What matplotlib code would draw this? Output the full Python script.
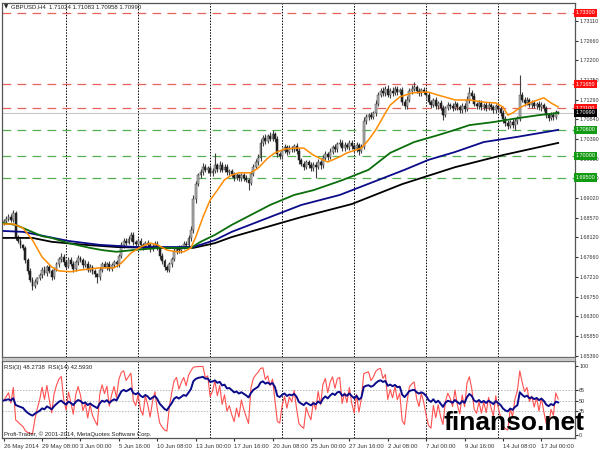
import numpy as np
import matplotlib
matplotlib.use('Agg')
import matplotlib.pyplot as plt
from matplotlib.patches import Rectangle

# GBPUSD H4 closes (26 May - 18 Jul 2014)
first_open = 1.6845
closes = [
    1.6850, 1.6855, 1.6860, 1.6852, 1.6868, 1.6813, 1.6805, 1.6795, 1.6788, 1.6760, 1.6735, 1.6715,
    1.6700, 1.6710, 1.6718, 1.6725, 1.6738, 1.6730, 1.6745, 1.6735, 1.6722, 1.6738, 1.6750, 1.6762,
    1.6768, 1.6755, 1.6745, 1.6760, 1.6752, 1.6740, 1.6755, 1.6765, 1.6760, 1.6748, 1.6752, 1.6738,
    1.6745, 1.6735, 1.6728, 1.6720, 1.6738, 1.6750, 1.6745, 1.6752, 1.6740, 1.6748, 1.6755, 1.6750,
    1.6770, 1.6795, 1.6805, 1.6800, 1.6808, 1.6818, 1.6802, 1.6798, 1.6805, 1.6795, 1.6790, 1.6800,
    1.6795, 1.6785, 1.6792, 1.6798, 1.6788, 1.6770, 1.6758, 1.6745, 1.6738, 1.6750, 1.6762, 1.6780,
    1.6788, 1.6782, 1.6790, 1.6798, 1.6795, 1.6810, 1.6830, 1.6900, 1.6935, 1.6955, 1.6962, 1.6975,
    1.6968, 1.6972, 1.6960, 1.6965, 1.6978, 1.6970, 1.6980, 1.6968, 1.6975, 1.6962, 1.6965, 1.6958,
    1.6950, 1.6955, 1.6948, 1.6955, 1.6950, 1.6945, 1.6938, 1.6958, 1.6975, 1.6985, 1.6995, 1.7030,
    1.7042, 1.7035, 1.7045, 1.7040, 1.7050, 1.7038, 1.7005, 1.7000, 1.7012, 1.7020, 1.7010, 1.7018,
    1.7015, 1.7022, 1.7012, 1.6990, 1.6982, 1.6975, 1.6985, 1.6978, 1.6972, 1.6980, 1.6975, 1.6985,
    1.6978, 1.6995, 1.7005, 1.6998, 1.7010, 1.7020, 1.7015, 1.7028, 1.7030, 1.7018, 1.7025, 1.7020,
    1.7030, 1.7022, 1.7015, 1.7025, 1.7012, 1.7020, 1.7080, 1.7090, 1.7095, 1.7090, 1.7098, 1.7120,
    1.7140, 1.7150, 1.7145, 1.7155, 1.7140, 1.7150, 1.7145, 1.7155, 1.7148, 1.7152, 1.7125, 1.7115,
    1.7130, 1.7150, 1.7155, 1.7158, 1.7150, 1.7145, 1.7152, 1.7148, 1.7140, 1.7125, 1.7118, 1.7128,
    1.7115, 1.7122, 1.7110, 1.7095, 1.7110, 1.7118, 1.7115, 1.7110, 1.7120, 1.7112, 1.7105, 1.7115,
    1.7108, 1.7130, 1.7145, 1.7138, 1.7120, 1.7115, 1.7122, 1.7112, 1.7118, 1.7110, 1.7118, 1.7112,
    1.7105, 1.7115, 1.7108, 1.7100, 1.7085, 1.7075, 1.7070, 1.7078, 1.7072, 1.7080, 1.7085, 1.7140,
    1.7130, 1.7122, 1.7128, 1.7118, 1.7122, 1.7115, 1.7120, 1.7112, 1.7118, 1.7110, 1.7095, 1.7088,
    1.7095, 1.7090, 1.7102, 1.7099,
]
# upper / lower shadows in pips
wick_up = [
    4, 6, 5, 7, 8, 5, 4, 6, 3, 5, 4, 6,
    5, 7, 4, 6, 5, 8, 4, 6, 5, 7, 6, 5,
    8, 5, 4, 6, 7, 5, 4, 6, 5, 4, 7, 5,
    6, 4, 5, 3, 6, 5, 7, 4, 6, 5, 4, 6,
    5, 7, 6, 5, 8, 7, 6, 4, 5, 6, 4, 5,
    6, 5, 4, 7, 5, 4, 6, 5, 4, 6, 5, 7,
    5, 6, 4, 5, 6, 7, 8, 10, 8, 6, 7, 9,
    6, 5, 8, 7, 29, 6, 8, 5, 7, 6, 5, 6,
    5, 6, 4, 5, 6, 5, 4, 7, 6, 8, 9, 10,
    7, 8, 6, 9, 10, 6, 7, 5, 6, 8, 5, 7,
    6, 5, 7, 6, 5, 7, 6, 5, 8, 6, 5, 7,
    6, 8, 7, 5, 8, 6, 7, 5, 8, 6, 7, 5,
    6, 7, 5, 6, 5, 7, 10, 6, 5, 7, 6, 8,
    7, 6, 8, 7, 9, 6, 8, 7, 6, 5, 7, 6,
    8, 7, 9, 12, 6, 7, 5, 8, 6, 7, 5, 6,
    7, 5, 6, 8, 6, 7, 5, 6, 7, 5, 6, 7,
    6, 8, 15, 7, 6, 5, 7, 6, 5, 7, 6, 5,
    6, 5, 7, 6, 5, 6, 7, 5, 6, 7, 8, 47,
    8, 6, 7, 5, 6, 7, 5, 6, 7, 5, 6, 5,
    6, 7, 5, 1,
]
wick_dn = [
    5, 4, 6, 5, 4, 6, 5, 7, 5, 6, 8, 6,
    9, 5, 6, 4, 7, 5, 6, 5, 7, 6, 4, 5,
    6, 7, 5, 4, 6, 8, 5, 6, 4, 7, 5, 6,
    5, 7, 6, 12, 5, 6, 4, 7, 5, 6, 5, 7,
    6, 5, 7, 6, 4, 5, 7, 6, 5, 6, 7, 5,
    6, 7, 5, 4, 6, 7, 6, 8, 6, 5, 6, 4,
    5, 6, 5, 4, 6, 5, 6, 7, 8, 5, 7, 6,
    6, 7, 5, 6, 5, 7, 6, 5, 6, 7, 5, 6,
    7, 5, 6, 5, 7, 6, 16, 6, 5, 6, 5, 7,
    6, 7, 5, 6, 5, 7, 8, 7, 6, 5, 7, 6,
    5, 6, 7, 8, 6, 7, 5, 6, 7, 6, 25, 6,
    7, 6, 5, 7, 6, 5, 6, 7, 5, 6, 7, 5,
    6, 7, 8, 5, 9, 6, 5, 6, 7, 5, 6, 5,
    6, 5, 7, 6, 5, 7, 6, 5, 7, 6, 8, 7,
    6, 5, 7, 6, 5, 7, 6, 5, 7, 6, 7, 5,
    6, 7, 5, 12, 6, 5, 7, 6, 5, 6, 7, 5,
    6, 5, 7, 6, 5, 7, 6, 5, 6, 7, 5, 6,
    7, 6, 5, 7, 8, 7, 9, 6, 7, 12, 6, 5,
    6, 7, 5, 6, 7, 5, 6, 7, 8, 6, 7, 8,
    6, 7, 5, 3,
]

# moving averages, read at a few bars each
orange_bars = [0, 4, 8, 12, 16, 20, 23, 28, 32, 40, 46, 49, 53, 57, 61, 64, 68, 72, 75, 78,
               80, 83, 86, 89, 92, 95, 98, 103, 106, 110, 113, 117, 122, 125, 129, 133, 135,
               140, 143, 149, 152, 155, 159, 161, 165, 170, 174, 177, 181, 185, 188, 194, 200,
               205, 208, 210, 212, 215, 219, 225, 228, 231]
orange_vals = [1.6843, 1.6843, 1.6834, 1.6806, 1.6767, 1.6744, 1.6735, 1.6733, 1.6737, 1.6742,
               1.6742, 1.6753, 1.6776, 1.6790, 1.6799, 1.6795, 1.6783, 1.6779, 1.6779, 1.6788,
               1.6813, 1.6859, 1.6898, 1.6921, 1.6945, 1.6956, 1.6961, 1.6961, 1.6972, 1.6995,
               1.7007, 1.7016, 1.7018, 1.7018, 1.7002, 1.6991, 1.6986, 1.6998, 1.7007, 1.7018,
               1.7037, 1.7060, 1.7099, 1.7117, 1.7136, 1.7145, 1.7147, 1.7147, 1.7140, 1.7134,
               1.7129, 1.7129, 1.7124, 1.7122, 1.7113, 1.7094, 1.7099, 1.7111, 1.7122, 1.7134,
               1.7122, 1.7113]
green_bars = [0, 5, 16, 20, 27, 36, 41, 47, 54, 65, 78, 82, 88, 95, 111, 121, 129, 141, 152,
              161, 171, 181, 188, 194, 204, 214, 223, 231]
green_vals = [1.6845, 1.6841, 1.6815, 1.6811, 1.6799, 1.6788, 1.6783, 1.6779, 1.6783, 1.6788,
              1.6788, 1.6802, 1.6818, 1.6841, 1.6887, 1.6910, 1.6921, 1.6944, 1.6968, 1.7007,
              1.7032, 1.7048, 1.7060, 1.7071, 1.7078, 1.7087, 1.7094, 1.7099]
blue_bars = [0, 8, 17, 27, 40, 55, 69, 79, 88, 95, 124, 140, 167, 177, 188, 200, 214, 231]
blue_vals = [1.6827, 1.6825, 1.6815, 1.6804, 1.6795, 1.6790, 1.6790, 1.6790, 1.6806, 1.6825,
             1.6887, 1.6910, 1.6968, 1.6991, 1.7009, 1.7032, 1.7044, 1.7060]
black_bars = [0, 12, 20, 34, 47, 62, 79, 88, 95, 124, 145, 166, 188, 208, 231]
black_vals = [1.6811, 1.6811, 1.6802, 1.6795, 1.6790, 1.6788, 1.6788, 1.6799, 1.6813, 1.6859,
              1.6889, 1.6935, 1.6974, 1.7002, 1.7030]

red_levels = [1.7330, 1.7165, 1.7110]
green_levels = [1.7060, 1.7000, 1.6950]
bid = 1.70990

price_ticks = [1.73110, 1.72660, 1.72200, 1.71750, 1.71290, 1.70840, 1.70390, 1.69930, 1.69480,
               1.69020, 1.68570, 1.68120, 1.67660, 1.67210, 1.66750, 1.66300, 1.65850, 1.65390]
rsi_ticks = [0, 35, 50, 65, 100]
time_labels = ['26 May 2014', '29 May 08:00', '3 Jun 00:00', '5 Jun 16:00', '10 Jun 08:00',
               '13 Jun 00:00', '17 Jun 16:00', '20 Jun 08:00', '25 Jun 00:00', '27 Jun 16:00',
               '2 Jul 08:00', '7 Jul 00:00', '9 Jul 16:00', '14 Jul 08:00', '17 Jul 00:00']

FONT = 'Liberation Sans'
SMALL = 4.3
AXIS = 3.9


def rsi(vals, n):
    # Wilder smoothing, started from a neutral average
    d = np.diff(vals)
    seed = np.mean(np.abs(d))
    au, ad = seed, seed
    out = [50.0]
    for v in d:
        au = (au * (n - 1) + max(v, 0)) / n
        ad = (ad * (n - 1) + max(-v, 0)) / n
        out.append(100 - 100 / (1 + au / ad))
    return np.array(out)


closes = np.array(closes)
opens = np.r_[first_open, closes[:-1]]
highs = np.maximum(opens, closes) + np.array(wick_up) * 1e-4
lows = np.minimum(opens, closes) - np.array(wick_dn) * 1e-4
x = np.arange(len(closes))

rsi3 = rsi(closes, 3)
rsi14 = rsi(closes, 14)

fig = plt.figure(figsize=(6, 4.5), dpi=100)
ax = fig.add_axes([2 / 600, 93 / 450, 573 / 600, 354 / 450])
ax2 = fig.add_axes([2 / 600, 12 / 450, 573 / 600, 77 / 450])

# candles
ax.vlines(x, lows, highs, color='#404040', lw=0.8, zorder=3)
bull = closes >= opens
body = np.maximum(np.abs(closes - opens), 0.00006)
ax.bar(x[bull], body[bull], bottom=opens[bull], width=0.8, color='#b4b4b4',
       edgecolor='#404040', lw=0.35, zorder=4)
ax.bar(x[~bull], body[~bull], bottom=closes[~bull], width=0.8, color='#202020',
       edgecolor='#202020', lw=0.35, zorder=4)

# moving averages
ax.plot(black_bars, black_vals, color='black', lw=1.3, zorder=5)
ax.plot(blue_bars, blue_vals, color='#0a0a8a', lw=1.3, zorder=5)
ax.plot(green_bars, green_vals, color='#0a6e0a', lw=1.3, zorder=5)
ax.plot(orange_bars, orange_vals, color='#ff8c00', lw=1.1, zorder=5)

for lv in red_levels:
    ax.axhline(lv, color='#e8625c', lw=0.9, ls=(0, (7, 5)), zorder=2)
for lv in green_levels:
    ax.axhline(lv, color='#55b055', lw=0.9, ls=(0, (7, 5)), zorder=2)
ax.axhline(bid, color='#c8c8c8', lw=0.8, zorder=2)

grid_bars = [25.8 + 30 * k for k in range(7)]
for a in (ax, ax2):
    for g in grid_bars:
        a.axvline(g, color='black', lw=0.7, ls=(0, (1.5, 1.5)), zorder=1)
    a.set_xlim(-0.7, 238)
    for s in a.spines.values():
        s.set_color('#555555')
        s.set_linewidth(0.9)
    a.yaxis.tick_right()
    a.tick_params(axis='y', labelsize=AXIS, length=2, pad=1, colors='#333333')

ax.set_ylim(1.65365, 1.73525)
ax.set_yticks(price_ticks)
ax.set_yticklabels(['%.5f' % v for v in price_ticks], family=FONT)
ax.set_xticks([])


def level_box(lv, fc, z=10):
    ax.text(1.0015, lv, '%.5f' % lv, transform=ax.get_yaxis_transform(), fontsize=AXIS,
            family=FONT, color='white', va='center', ha='left', clip_on=False, zorder=z,
            bbox=dict(boxstyle='square,pad=0.3', fc=fc, ec='none'))


for lv in red_levels:
    level_box(lv, '#ff1010')
level_box(bid, 'black', 11)
for lv in green_levels:
    level_box(lv, '#129a12')

# RSI panel
for lv in (35, 50, 65):
    ax2.axhline(lv, color='#b8b8b8', lw=0.7, ls=(0, (1.5, 1.5)), zorder=1)
ax2.plot(x, rsi3, color='#ff5050', lw=0.8, zorder=3)
ax2.plot(x, rsi14, color='#0a0a8a', lw=1.4, zorder=4)
ax2.set_ylim(-4.3, 107.2)
ax2.set_yticks(rsi_ticks)
ax2.set_yticklabels([str(v) for v in rsi_ticks], family=FONT)
ax2.set_xticks([16 * k for k in range(len(time_labels))])
ax2.set_xticklabels(time_labels, ha='left', family=FONT)
ax2.tick_params(axis='x', labelsize=SMALL, length=2.5, pad=1.5, colors='#333333')

# splitter between panels
fig.patches.append(Rectangle((2 / 600, 89 / 450), 573 / 600, 4 / 450, transform=fig.transFigure,
                             fc='#c8c8c8', ec='#666666', lw=0.6))

fig.text(4 / 600, 1 - 7 / 450, '\u25bc', fontsize=4, va='center', color='#222222')
fig.text(11 / 600, 1 - 7 / 450, 'GBPUSD,H4  1.71024 1.71083 1.70958 1.70990',
         fontsize=SMALL, family=FONT, va='center', color='#222222')
fig.text(4 / 600, 1 - 367 / 450, 'RSI(3) 48.2738  RSI(14) 42.5930',
         fontsize=SMALL, family=FONT, va='center', color='#222222')
fig.text(4 / 600, 1 - 434 / 450, 'Profi-Trader, \u00a9 2001-2014, MetaQuotes Software Corp.',
         fontsize=SMALL, family=FONT, va='center', color='#222222')
fig.text(444 / 600, 1 - 430 / 450, 'finanso.net', fontsize=19, fontweight='bold',
         family=FONT, va='baseline', color='black', zorder=20)

fig.savefig('out.png', dpi=100)
